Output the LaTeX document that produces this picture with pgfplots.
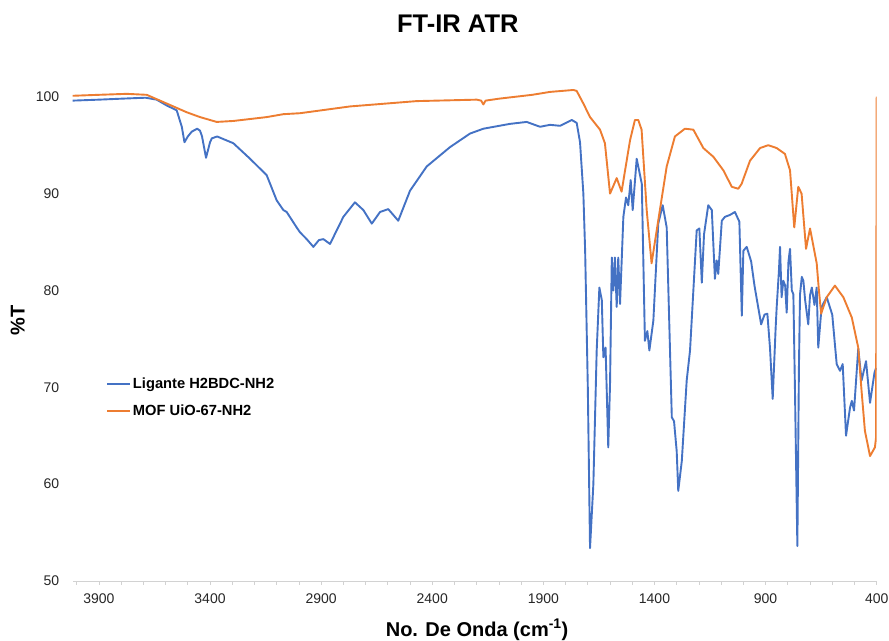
\documentclass[border=0pt]{standalone}
\usepackage{pgfplots}
\pgfplotsset{compat=1.18}
\usepackage{fontspec}
\setmainfont{Liberation Sans}
\definecolor{xlblue}{HTML}{4472C4}
\definecolor{xlorange}{HTML}{ED7D31}
\begin{document}
\begin{tikzpicture}
\useasboundingbox (0,0) rectangle (889pt,640pt);
\begin{axis}[
  at={(72.7pt,59pt)}, anchor=south west,
  scale only axis, width=804pt, height=513.3pt,
  x dir=reverse, xmin=400, xmax=4018, ymin=50, ymax=103,
  axis x line*=bottom, axis y line*=left,
  x axis line style={draw=gray!35, line width=0.8pt, -},
  y axis line style={draw=none},
  xtick={400,900,...,3900}, minor xtick={500,600,...,4000},
  tick align=outside, major tick length=4pt, minor tick length=4pt,
  xtick style={draw=gray!35, line width=0.8pt},
  minor tick style={draw=gray!35, line width=0.8pt},
  ytick={50,60,...,100}, ytick style={draw=none},
  /pgf/number format/assume math mode=true,
  /pgf/number format/1000 sep={},
  tick label style={font=\fontsize{14}{16}\selectfont, text=black!85},
  yticklabel style={anchor=east, xshift=-6pt},
  xticklabel style={yshift=-5pt},
  xlabel={No. De Onda (cm\textsuperscript{-1})},
  ylabel={\%T},
  every axis x label/.style={at={(rel axis cs:0.503,0)}, yshift=-49pt, anchor=center, font=\bfseries\fontsize{20}{22}\selectfont},
  every axis y label/.style={at={(rel axis cs:0,0.508)}, xshift=-55pt, rotate=90, anchor=center, font=\bfseries\fontsize{20}{22}\selectfont},
  title={FT-IR ATR},
  title style={at={(rel axis cs:0.479,1)}, yshift=38pt, anchor=center, font=\bfseries\fontsize{25.5}{28}\selectfont},
  legend style={at={(rel axis cs:0.042,0.40)}, anchor=north west, draw=none, fill=none,
    font=\bfseries\fontsize{14.7}{16}\selectfont, row sep=11pt, inner sep=0pt},
  legend cell align=left,
  legend image code/.code={\draw[#1, line width=1.3pt] (0pt,0pt) -- (23pt,0pt);},
]
\addplot[xlblue, line width=1.9pt, line join=round] coordinates {
(4018,99.6)(3900,99.7)(3800,99.8)(3690,99.9)(3640,99.7)(3595,99.1)(3550,98.6)(3527,96.9)(3515,95.3)(3500,95.9)(3482,96.4)(3458,96.7)(3445,96.5)(3436,95.9)(3418,93.7)(3400,95.3)(3392,95.7)(3368,95.9)(3295,95.2)(3220,93.6)(3145,91.9)(3100,89.3)(3070,88.3)(3055,88.1)(3010,86.5)(2995,86.0)(2965,85.3)(2935,84.5)(2910,85.2)(2890,85.3)(2860,84.8)(2800,87.6)(2748,89.1)(2710,88.3)(2672,86.9)(2635,88.1)(2598,88.4)(2553,87.2)(2500,90.3)(2425,92.8)(2320,94.8)(2230,96.2)(2170,96.7)(2050,97.2)(1975,97.4)(1915,96.9)(1870,97.1)(1825,97.0)(1790,97.4)(1772,97.6)(1750,97.3)(1735,95.3)(1720,90.0)(1712,84.1)(1700,70)(1690,53.4)(1675,60)(1660,73.8)(1648,80.3)(1637,79)(1630,73.1)(1620,74.1)(1608,63.8)(1600,70.3)(1592,83.4)(1585,80)(1578,83.4)(1570,78.3)(1563,83.4)(1555,78.6)(1540,87.6)(1528,89.6)(1518,88.8)(1507,91.4)(1498,88.3)(1480,93.6)(1457,91)(1443,74.8)(1432,75.8)(1423,73.8)(1405,76.9)(1383,86.9)(1363,88.8)(1345,86.5)(1322,66.9)(1312,66.5)(1300,63.4)(1293,59.3)(1277,62.4)(1255,70.7)(1240,73.8)(1210,86.2)(1198,86.4)(1187,80.8)(1177,85.8)(1158,88.8)(1142,88.3)(1128,81.2)(1120,83.1)(1113,81.7)(1097,87.2)(1083,87.6)(1060,87.8)(1038,88.1)(1018,87.1)(1007,77.4)(1000,84.1)(985,84.5)(965,83.0)(950,80.5)(935,78.5)(920,76.5)(905,77.5)(892,77.6)(880,74)(868,68.8)(855,76)(850,78.3)(840,82)(835,84.5)(828,79.3)(820,81)(812,80.5)(805,77.7)(797,83)(790,84.3)(782,80)(775,79.6)(768,70)(757,53.6)(750,72)(745,79.6)(737,81.4)(730,81)(722,79)(708,76.5)(700,79.5)(692,80.3)(680,78.5)(670,80.3)(663,74.1)(648,78.3)(625,79.3)(600,77.5)(595,76.2)(580,72.4)(565,71.7)(553,72.4)(538,65)(520,67.9)(512,68.6)(502,67.6)(483,74)(468,70.7)(448,72.7)(430,68.4)(410,71.5)(403,72)
};
\addlegendentry{Ligante H2BDC-NH2}
\addplot[xlorange, line width=1.9pt, line join=round] coordinates {
(4018,100.1)(3900,100.2)(3775,100.3)(3685,100.2)(3595,99.3)(3505,98.4)(3445,97.9)(3370,97.4)(3295,97.5)(3145,97.9)(3070,98.2)(2995,98.3)(2770,99.0)(2470,99.55)(2200,99.7)(2180,99.6)(2170,99.2)(2160,99.6)(2100,99.8)(1950,100.2)(1870,100.5)(1765,100.7)(1750,100.6)(1720,99.3)(1690,97.9)(1645,96.6)(1623,95.2)(1600,90.0)(1570,91.6)(1548,90.2)(1510,95.5)(1488,97.6)(1473,97.6)(1458,96.6)(1435,88.3)(1413,82.8)(1390,86.2)(1345,92.8)(1308,95.9)(1263,96.7)(1225,96.6)(1180,94.7)(1135,93.8)(1090,92.4)(1052,90.7)(1023,90.5)(1008,91.0)(970,93.4)(925,94.7)(888,95.0)(850,94.7)(813,94.1)(790,92.4)(771,86.5)(753,90.7)(738,90.0)(718,84.3)(700,86.4)(670,82.8)(660,80)(650,77.6)(625,79.3)(588,80.5)(550,79.3)(512,77.2)(483,74.1)(468,69.6)(453,65.5)(430,62.9)(408,63.8)(403,64.8)(400,100)
};
\addlegendentry{MOF UiO-67-NH2}
\end{axis}
\end{tikzpicture}
\end{document}
